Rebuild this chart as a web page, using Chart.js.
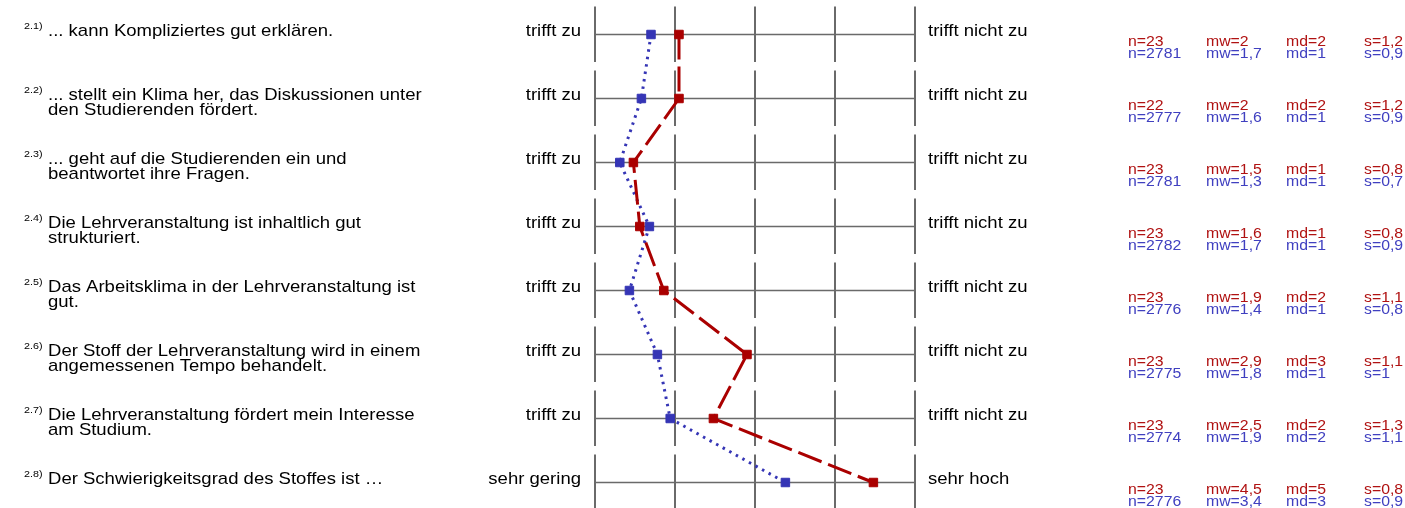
<!DOCTYPE html>
<html>
<head>
<meta charset="utf-8">
<script src="https://cdn.jsdelivr.net/npm/chart.js@4"></script>
<style>
  body { margin: 0; background: #fff; }
  canvas { display: block; }
</style>
</head>
<body>
<canvas id="canvas" width="1405" height="508"></canvas>
<script>
// item numbers and question texts (one entry per row)
const itemNumbers = ['2.1)', '2.2)', '2.3)', '2.4)', '2.5)', '2.6)', '2.7)', '2.8)'];
const questions = [
    ['... kann Kompliziertes gut erklären.'],
    ['... stellt ein Klima her, das Diskussionen unter', 'den Studierenden fördert.'],
    ['... geht auf die Studierenden ein und', 'beantwortet ihre Fragen.'],
    ['Die Lehrveranstaltung ist inhaltlich gut', 'strukturiert.'],
    ['Das Arbeitsklima in der Lehrveranstaltung ist', 'gut.'],
    ['Der Stoff der Lehrveranstaltung wird in einem', 'angemessenen Tempo behandelt.'],
    ['Die Lehrveranstaltung fördert mein Interesse', 'am Studium.'],
    ['Der Schwierigkeitsgrad des Stoffes ist …']
];
const leftPoles = ['trifft zu', 'trifft zu', 'trifft zu', 'trifft zu', 'trifft zu', 'trifft zu', 'trifft zu', 'sehr gering'];
const rightPoles = ['trifft nicht zu', 'trifft nicht zu', 'trifft nicht zu', 'trifft nicht zu', 'trifft nicht zu', 'trifft nicht zu', 'trifft nicht zu', 'sehr hoch'];

// scale steps 1..5
const scaleSteps = [1, 2, 3, 4, 5];

// profile values
const courseMeans = [2.05, 2.05, 1.48, 1.56, 1.86, 2.90, 2.48, 4.48];
const compareMeans = [1.70, 1.58, 1.31, 1.68, 1.43, 1.78, 1.94, 3.38];

// statistics text on the right
const courseN = ['23', '22', '23', '23', '23', '23', '23', '23'];
const courseMw = ['2', '2', '1,5', '1,6', '1,9', '2,9', '2,5', '4,5'];
const courseMd = ['2', '2', '1', '1', '2', '3', '2', '5'];
const courseS = ['1,2', '1,2', '0,8', '0,8', '1,1', '1,1', '1,3', '0,8'];
const compareN = ['2781', '2777', '2781', '2782', '2776', '2775', '2774', '2776'];
const compareMw = ['1,7', '1,6', '1,3', '1,7', '1,4', '1,8', '1,9', '3,4'];
const compareMd = ['1', '1', '1', '1', '1', '1', '2', '3'];
const compareS = ['0,9', '0,9', '0,7', '0,9', '0,8', '1', '1,1', '0,9'];

const RED = '#aa0000';
const BLUE = '#3535b5';
const RED_TEXT = '#b01212';
const BLUE_TEXT = '#4040c0';
const GRID = '#6a6a6a';
const FONT = '"Liberation Sans", Arial, sans-serif';
// the texts in the picture are a bit wider than they are tall
const STRETCH = 1.13;

//draws text stretched horizontally, anchored at x
const drawText = (ctx, text, x, y, align) => {
    ctx.save();
    ctx.translate(x, y);
    ctx.scale(STRETCH, 1);
    ctx.textAlign = align;
    ctx.fillText(text, 0, 0);
    ctx.restore();
};

//grid: one horizontal line per row, vertical pieces for each step
const profileGrid = {
    id: 'profileGrid',
    beforeDatasetsDraw(chart) {
        const ctx = chart.ctx;
        const x = chart.scales.x;
        const y = chart.scales.y;
        ctx.save();
        ctx.strokeStyle = GRID;
        for (let i = 0; i < itemNumbers.length; i++) {
            const rowY = y.getPixelForValue(i);
            ctx.lineWidth = 1.5;
            ctx.beginPath();
            ctx.moveTo(x.getPixelForValue(1), rowY);
            ctx.lineTo(x.getPixelForValue(5), rowY);
            ctx.stroke();
            ctx.lineWidth = 2;
            scaleSteps.forEach(step => {
                const px = Math.round(x.getPixelForValue(step));
                ctx.beginPath();
                ctx.moveTo(px, rowY - 28);
                ctx.lineTo(px, rowY + 27.5);
                ctx.stroke();
            });
        }
        ctx.restore();
    },
    afterDraw(chart) {
        const ctx = chart.ctx;
        const y = chart.scales.y;
        ctx.save();
        ctx.textBaseline = 'alphabetic';
        for (let i = 0; i < itemNumbers.length; i++) {
            const rowY = y.getPixelForValue(i);

            ctx.fillStyle = '#000';
            ctx.font = '9.5px ' + FONT;
            drawText(ctx, itemNumbers[i], 24, rowY - 6, 'left');

            ctx.font = '16.4px ' + FONT;
            questions[i].forEach((line, k) => {
                drawText(ctx, line, 48, rowY + 1.5 + k * 15, 'left');
            });

            drawText(ctx, leftPoles[i], 581, rowY + 1.5, 'right');
            drawText(ctx, rightPoles[i], 928, rowY + 1.5, 'left');

            ctx.font = '14px ' + FONT;
            ctx.fillStyle = RED_TEXT;
            drawText(ctx, 'n=' + courseN[i], 1128, rowY + 11.5, 'left');
            drawText(ctx, 'mw=' + courseMw[i], 1206, rowY + 11.5, 'left');
            drawText(ctx, 'md=' + courseMd[i], 1286, rowY + 11.5, 'left');
            drawText(ctx, 's=' + courseS[i], 1364, rowY + 11.5, 'left');
            ctx.fillStyle = BLUE_TEXT;
            drawText(ctx, 'n=' + compareN[i], 1128, rowY + 23.5, 'left');
            drawText(ctx, 'mw=' + compareMw[i], 1206, rowY + 23.5, 'left');
            drawText(ctx, 'md=' + compareMd[i], 1286, rowY + 23.5, 'left');
            drawText(ctx, 's=' + compareS[i], 1364, rowY + 23.5, 'left');
        }
        ctx.restore();
    }
};

const context = document.getElementById('canvas').getContext('2d');
const profileChart = new Chart(context, {
    type: 'line',
    data: {
        labels: itemNumbers,
        datasets: [{
            label: 'Lehrveranstaltung',
            data: courseMeans,
            borderColor: RED,
            backgroundColor: RED,
            borderWidth: 3,
            borderDash: [25, 7],
            pointStyle: 'rect',
            pointRadius: 6,
            pointBorderWidth: 1,
            tension: 0,
            clip: false
        }, {
            label: 'Vergleich',
            data: compareMeans,
            borderColor: BLUE,
            backgroundColor: BLUE,
            borderWidth: 3,
            borderDash: [2.5, 5],
            pointStyle: 'rect',
            pointRadius: 6,
            pointBorderWidth: 1,
            tension: 0,
            clip: false
        }]
    },
    options: {
        indexAxis: 'y',
        responsive: false,
        animation: false,
        layout: {
            padding: { left: 595, right: 490, top: 34.5, bottom: 25.5 }
        },
        scales: {
            x: { type: 'linear', min: 1, max: 5, display: false },
            y: { type: 'category', offset: false, display: false }
        },
        plugins: {
            legend: { display: false },
            tooltip: { enabled: false }
        }
    },
    plugins: [profileGrid]
});
</script>
</body>
</html>
